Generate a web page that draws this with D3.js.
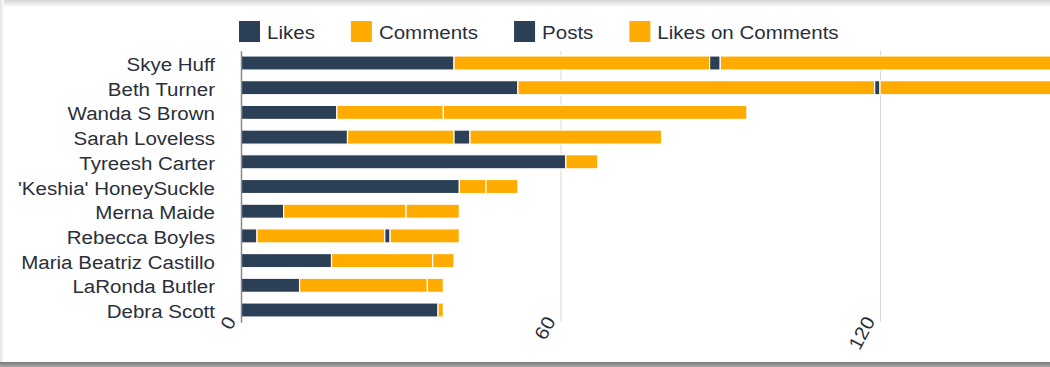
<!DOCTYPE html>
<html>
<head>
<meta charset="utf-8">
<script src="https://cdn.jsdelivr.net/npm/d3@7/dist/d3.min.js"></script>
<style>
  html, body { margin: 0; padding: 0; background: #fff; }
  svg { display: block; font-family: "Liberation Sans", Arial, Helvetica, sans-serif; }
</style>
</head>
<body>
<svg id="chart" width="1050" height="367"></svg>
<script>
const categories = ["Skye Huff", "Beth Turner", "Wanda S Brown", "Sarah Loveless", "Tyreesh Carter",
  "'Keshia' HoneySuckle", "Merna Maide", "Rebecca Boyles", "Maria Beatriz Castillo", "LaRonda Butler", "Debra Scott"];
const seriesNames = ["Likes", "Comments", "Posts", "Likes on Comments"];
const likes           = [40, 52, 18, 20, 61, 41,  8,  3, 17, 11, 37];
const comments        = [48, 67, 20, 20,  6,  5, 23, 24, 19, 24,  1];
const posts           = [ 2,  1,  0,  3,  0,  0,  0,  1,  0,  0,  0];
const likesOnComments = [75, 45, 57, 36,  0,  6, 10, 13,  4,  3,  0];
const xTicks = [0, 60, 120];

const colors = ["#2b3f57", "#ffab00", "#2b3f57", "#ffab00"];
const FONT = 19, SX = 1.08;

const svg = d3.select("#chart");

// frame / shadow decoration
const defs = svg.append("defs");
const gTop = defs.append("linearGradient").attr("id", "gTop").attr("x1", 0).attr("y1", 0).attr("x2", 0).attr("y2", 1);
gTop.append("stop").attr("offset", 0).attr("stop-color", "#d4d4d4");
gTop.append("stop").attr("offset", 1).attr("stop-color", "#ffffff");
const gBot = defs.append("linearGradient").attr("id", "gBot").attr("x1", 0).attr("y1", 0).attr("x2", 0).attr("y2", 1);
gBot.append("stop").attr("offset", 0).attr("stop-color", "#7a7a7a");
gBot.append("stop").attr("offset", 1).attr("stop-color", "#a8a8a8");
const gLeft = defs.append("linearGradient").attr("id", "gLeft").attr("x1", 0).attr("y1", 0).attr("x2", 1).attr("y2", 0);
gLeft.append("stop").attr("offset", 0).attr("stop-color", "#e2e2e2");
gLeft.append("stop").attr("offset", 1).attr("stop-color", "#ffffff");
svg.append("rect").attr("x", 0).attr("y", 0).attr("width", 1050).attr("height", 367).attr("fill", "#fff");
svg.append("rect").attr("x", 0).attr("y", 0).attr("width", 1050).attr("height", 7).attr("fill", "url(#gTop)");
svg.append("rect").attr("x", 0).attr("y", 0).attr("width", 4).attr("height", 362).attr("fill", "url(#gLeft)");
svg.append("rect").attr("x", 0).attr("y", 362).attr("width", 1050).attr("height", 5).attr("fill", "url(#gBot)");

const rows = categories.map((c, i) => ({
  name: c,
  "Likes": likes[i], "Comments": comments[i], "Posts": posts[i], "Likes on Comments": likesOnComments[i]
}));
const stacked = d3.stack().keys(seriesNames)(rows);

const x = d3.scaleLinear().domain([0, 180]).range([241, 1199.5]);
const y = d3.scaleBand().domain(categories).range([50.65, 322.35]).paddingInner(0.43).paddingOuter(0.215);

// gridlines
svg.append("g").selectAll("line").data(xTicks.filter(t => t > 0)).join("line")
  .attr("x1", d => x(d) + 0.5).attr("x2", d => x(d) + 0.5)
  .attr("y1", 51).attr("y2", 322)
  .attr("stroke", "#d9d9d9").attr("stroke-width", 1);

// bars
svg.append("g").selectAll("g").data(stacked).join("g")
  .attr("fill", (d, i) => colors[i])
  .selectAll("rect").data(d => d.map(v => ({v, key: d.key}))).join("rect")
  .attr("x", d => x(d.v[0]))
  .attr("y", d => y(d.v.data.name))
  .attr("width", d => Math.max(0, x(d.v[1]) - x(d.v[0])))
  .attr("height", y.bandwidth())
  .attr("stroke", "#fff").attr("stroke-width", 1.2)
  .style("display", d => (d.v[1] - d.v[0]) > 0 ? null : "none");

// y axis
const yAxis = svg.append("g").attr("transform", "translate(241,0)")
  .call(d3.axisLeft(y).tickSize(0).tickPadding(0));
yAxis.select(".domain").attr("stroke", "#8a8a8a").attr("stroke-width", 1.5);
yAxis.selectAll("text")
  .attr("x", 0).attr("dy", 0)
  .attr("transform", "translate(-26,8) scale(" + SX + ",1)")
  .attr("font-size", FONT).attr("font-family", "Liberation Sans, Arial, sans-serif")
  .attr("fill", "#2a2f3a");

// x axis
const xAxis = svg.append("g").attr("transform", "translate(0,322)")
  .call(d3.axisBottom(x).tickValues(xTicks).tickSize(0).tickFormat(d3.format("d")));
xAxis.select(".domain").remove();
xAxis.selectAll("text")
  .attr("x", 0).attr("y", 0).attr("dy", 0)
  .attr("text-anchor", "end")
  .attr("transform", "translate(-5,-1) rotate(-62) scale(" + SX + ",1)")
  .attr("font-size", FONT).attr("font-family", "Liberation Sans, Arial, sans-serif")
  .attr("fill", "#2a2f3a");

// legend
const legend = svg.append("g");
let lx = 239;
seriesNames.forEach((name, i) => {
  const g = legend.append("g").attr("transform", `translate(${lx},0)`);
  g.append("rect").attr("x", 0).attr("y", 21).attr("width", 21).attr("height", 21).attr("fill", colors[i]);
  const t = g.append("text").attr("transform", `translate(28,39) scale(${SX},1)`)
    .attr("font-size", FONT).attr("fill", "#2a2f3a").text(name);
  const w = t.node().getComputedTextLength() * SX;
  lx += 28 + w + 36;
});
</script>
</body>
</html>
